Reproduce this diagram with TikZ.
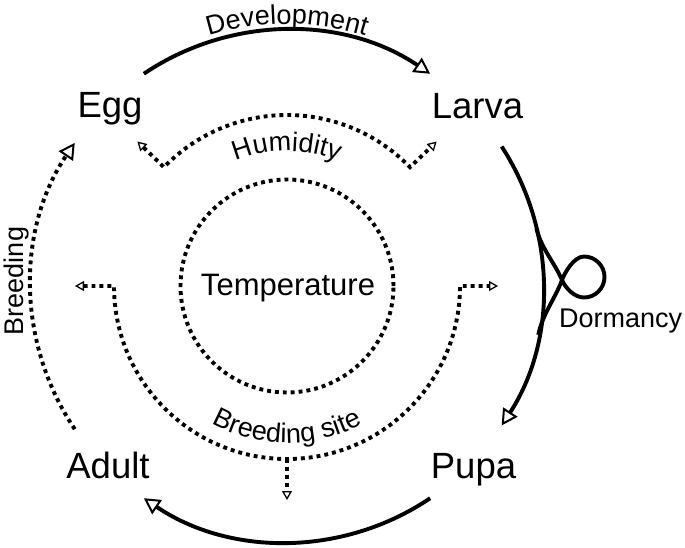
\documentclass[tikz,border=0pt]{standalone}
\usepackage{fontspec}
\setmainfont{Liberation Sans}
\usetikzlibrary{arrows.meta,decorations.text}
\newcommand\lblfont{\fontsize{27}{31}\selectfont}
\begin{document}
\begin{tikzpicture}[x=1pt,y=1pt,
  stage/.style={font=\fontsize{36.5}{40}\selectfont, inner sep=0pt, anchor=base},
  solidarc/.style={line width=3.9pt},
  dotline/.style={line width=3.9pt, dash pattern=on 3.9pt off 4pt},
  bigtip/.style={-{Triangle[open,length=16pt,width=17pt,line width=2pt]}},
  smalltip/.style={-{Triangle[open,length=9pt,width=10pt,line width=1.3pt]}},
  smalltips/.style={{Triangle[open,length=9pt,width=10pt,line width=1.3pt]}-{Triangle[open,length=9pt,width=10pt,line width=1.3pt]}},
  arclabel/.style={decorate, decoration={text along path, text align=center, text={|\lblfont|#1}}}
]
\useasboundingbox (0,0) rectangle (685,547);
\coordinate (C) at (287,261);

% stage labels
\node[stage] (egg) at (110,429) {Egg};
\node[stage] (larva) at (477.5,428) {Larva};
\node[stage] (pupa) at (473.5,69) {Pupa};
\node[stage] (adult) at (108,69) {Adult};

% outer cycle
\draw[solidarc,bigtip] ([shift={(124:256)}]C) arc[start angle=124,end angle=56,radius=256];
\draw[solidarc,bigtip] ([shift={(33:256)}]C) arc[start angle=33,end angle=-33,radius=256];
\draw[solidarc,bigtip] ([shift={(-56:256)}]C) arc[start angle=-56,end angle=-124,radius=256];
\draw[dotline,bigtip] ([shift={(214:256)}]C) arc[start angle=214,end angle=146,radius=256];

% dormancy loop
\coordinate (dx) at (562,267);
\draw[solidarc] ([shift={(13:256)}]C) .. controls (541,299) and (555,283.6) .. (dx)
  .. controls (565,259.6) and (574,249.5) .. (584,249.5)
  arc[start angle=-90,end angle=90,radius=20.5]
  .. controls (574,290.5) and (564.7,274.5) .. (dx)
  .. controls (555.9,250.1) and (542,231.6) .. ([shift={(-11:256)}]C);
\node[font=\lblfont, inner sep=0pt, anchor=base west] (dorm) at (559,220) {Dormancy};

% humidity
\draw[dotline,smalltips] ([shift={(136:208)}]C) -- ([shift={(136:171)}]C)
  arc[start angle=136,end angle=44,radius=171] -- ([shift={(44:208)}]C);

% breeding site
\draw[dotline,smalltips] ([shift={(180:212)}]C) -- ([shift={(180:173)}]C)
  arc[start angle=180,end angle=360,radius=173] -- ([shift={(0:211)}]C);
\draw[dotline,smalltip] ([shift={(270:173)}]C) -- ([shift={(270:214)}]C);

% temperature
\draw[dotline] (C) circle[radius=106.5];
\node[font=\fontsize{31}{34}\selectfont, inner sep=0pt, anchor=base] (temp) at (288,252) {Temperature};

% curved labels
\path[arclabel=Development] ([shift={(130:262)}]C) arc[start angle=130,end angle=50,radius=262];
\path[arclabel=Humidity] ([shift={(140:135)}]C) arc[start angle=140,end angle=40,radius=135];
\path[arclabel=Breeding site] ([shift={(220:157)}]C) arc[start angle=220,end angle=320,radius=157];
\node[font=\lblfont, inner sep=0pt, anchor=base, rotate=90] (breed) at (23.5,266) {Breeding};
\end{tikzpicture}
\end{document}
